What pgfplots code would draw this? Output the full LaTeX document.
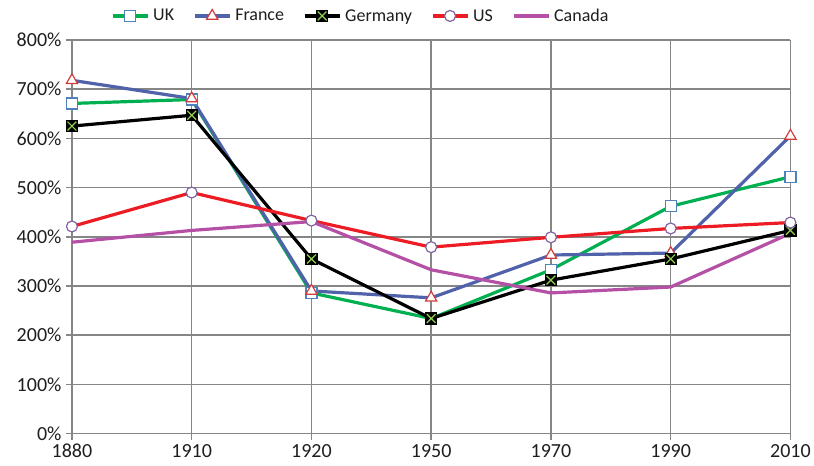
\documentclass[border=0pt]{standalone}
\usepackage{pgfplots}
\pgfplotsset{compat=1.18}
\usepackage{fontspec}
\setmainfont{Carlito}
\definecolor{ukgreen}{RGB}{0,176,80}
\definecolor{frblue}{RGB}{79,98,170}
\definecolor{usred}{RGB}{237,28,36}
\definecolor{camag}{RGB}{180,80,165}
\definecolor{mkblue}{RGB}{79,129,189}
\definecolor{mkred}{RGB}{210,60,60}
\definecolor{mkpurple}{RGB}{128,100,162}
\definecolor{mkgreen}{RGB}{146,208,80}
\definecolor{gridgray}{RGB}{134,134,134}
\pgfdeclareplotmark{germ}{%
 \pgfpathrectangle{\pgfpoint{-\pgfplotmarksize}{-\pgfplotmarksize}}{\pgfpoint{2\pgfplotmarksize}{2\pgfplotmarksize}}%
 \pgfsetfillcolor{black}\pgfsetstrokecolor{black}\pgfusepathqfillstroke
 \pgfsetstrokecolor{mkgreen}%
 \pgfpathmoveto{\pgfpoint{-0.8\pgfplotmarksize}{-0.8\pgfplotmarksize}}\pgfpathlineto{\pgfpoint{0.8\pgfplotmarksize}{0.8\pgfplotmarksize}}%
 \pgfpathmoveto{\pgfpoint{-0.8\pgfplotmarksize}{0.8\pgfplotmarksize}}\pgfpathlineto{\pgfpoint{0.8\pgfplotmarksize}{-0.8\pgfplotmarksize}}%
 \pgfusepathqstroke}
\begin{document}
\begin{tikzpicture}[x=1pt,y=1pt]
\begin{axis}[
  scale only axis,
  width=719pt, height=394pt,
  xmin=0, xmax=6, ymin=0, ymax=800,
  xtick={0,...,6},
  xticklabels={1880,1910,1920,1950,1970,1990,2010},
  ytick={0,100,...,800},
  yticklabel={\pgfmathprintnumber{\tick}\%},
  /pgf/number format/assume math mode=true,
  xmajorgrids, ymajorgrids,
  grid style={gridgray, line width=1.5pt},
  axis line style={gridgray, line width=1.5pt},
  tick style={gridgray, line width=1.5pt},
  tick align=outside,
  major tick length=6pt,
  axis x line*=bottom, axis y line*=left,
  ticklabel style={font=\fontsize{20}{24}\selectfont, text={rgb,255:red,30;green,30;blue,30}},
  yticklabel style={xshift=-1pt},
  xticklabel style={yshift=-1pt},
  legend style={draw=none, fill=none, at={(0.402,1.061)}, anchor=center, legend columns=5,
    font=\fontsize{18}{21}\selectfont, text={rgb,255:red,30;green,30;blue,30},
    /tikz/every even column/.append style={column sep=17pt},
    /tikz/every odd column/.append style={column sep=2pt}},
  legend image code/.code={\draw[mark repeat=2,mark phase=2] plot coordinates {(0pt,0pt)(17.5pt,0pt)(35pt,0pt)};},
  every axis plot/.append style={line width=3.2pt},
  clip=false,
]
\path (rel axis cs:0,0) ++(-72pt,-32pt) coordinate (bbA);
\path (rel axis cs:1,1) ++(23pt,40pt) coordinate (bbB);
\addplot[ukgreen, mark=square*, mark size=5.5pt, mark options={fill=white, draw=mkblue, line width=1.2pt}]
 coordinates {(0,671)(1,679)(2,286)(3,234)(4,333)(5,462)(6,522)};
\addlegendentry{UK}
\addplot[frblue, mark=triangle*, mark size=6.5pt, mark options={fill=white, draw=mkred, line width=1.2pt}]
 coordinates {(0,718)(1,681)(2,290)(3,276)(4,363)(5,367)(6,605)};
\addlegendentry{France}
\addplot[black, mark=germ, mark size=5.5pt, mark options={line width=1.2pt}]
 coordinates {(0,625)(1,647)(2,355)(3,234)(4,312)(5,355)(6,413)};
\addlegendentry{Germany}
\addplot[usred, mark=*, mark size=5.5pt, mark options={fill=white, draw=mkpurple, line width=1.2pt}]
 coordinates {(0,421)(1,490)(2,433)(3,379)(4,399)(5,417)(6,429)};
\addlegendentry{US}
\addplot[camag]
 coordinates {(0,389)(1,413)(2,431)(3,333)(4,286)(5,298)(6,407)};
\addlegendentry{Canada}
\end{axis}
\useasboundingbox (bbA) rectangle (bbB);
\end{tikzpicture}
\end{document}
